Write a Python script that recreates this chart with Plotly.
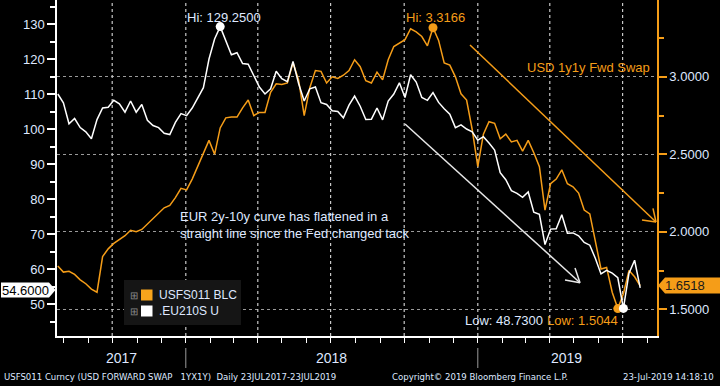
import numpy as np
import pandas as pd
import plotly.graph_objects as go

# ---- data (weekly samples) ----
dates = pd.date_range(end="2019-07-23", periods=105, freq="7D")

eu210s = [110.0, 107.5, 101.5, 103.0, 100.4, 99.2, 97.2, 102.7, 106.0, 106.2,
          108.2, 107.2, 104.8, 108.0, 104.8, 107.0, 102.5, 101.0, 100.4, 98.8,
          98.4, 101.9, 104.4, 103.8, 106.0, 109.1, 111.8, 120.0, 125.7, 129.25,
          125.4, 121.2, 121.8, 118.7, 118.5, 115.0, 112.0, 110.0, 111.5, 116.5,
          114.4, 113.5, 119.3, 113.0, 108.0, 111.5, 112.0, 107.5, 107.0, 105.2,
          105.0, 103.2, 106.8, 109.4, 106.5, 102.7, 102.8, 106.0, 102.6, 108.0,
          110.0, 113.2, 109.0, 115.5, 113.4, 109.0, 108.2, 110.4, 107.6, 105.8,
          104.2, 100.4, 101.2, 100.0, 99.2, 96.8, 97.8, 96.0, 94.0, 87.5,
          85.5, 82.4, 81.6, 80.5, 82.0, 76.2, 75.6, 67.0, 71.4, 71.5,
          75.5, 70.2, 70.3, 69.5, 67.6, 66.8, 63.0, 58.6, 59.6, 58.8,
          57.5, 48.73, 58.8, 62.5, 54.6]

usfs011 = [1.78, 1.74, 1.745, 1.725, 1.69, 1.665, 1.63, 1.61, 1.84, 1.89,
           1.925, 1.95, 1.975, 2.01, 2.00, 2.015, 2.05, 2.08, 2.12, 2.155,
           2.17, 2.22, 2.28, 2.27, 2.34, 2.42, 2.50, 2.59, 2.50, 2.67,
           2.735, 2.74, 2.74, 2.80, 2.85, 2.75, 2.77, 2.77, 2.90, 2.955,
           2.95, 2.96, 3.09, 2.98, 2.75, 2.93, 3.04, 3.035, 2.96, 3.00,
           2.99, 3.01, 3.04, 3.11, 3.065, 2.975, 2.96, 3.03, 2.98, 3.11,
           3.195, 3.22, 3.24, 3.31, 3.29, 3.26, 3.20, 3.3166, 3.235, 3.09,
           3.075, 3.00, 2.89, 2.85, 2.66, 2.42, 2.63, 2.71, 2.70, 2.60,
           2.63, 2.58, 2.59, 2.52, 2.59, 2.51, 2.42, 2.14, 2.31, 2.34,
           2.40, 2.31, 2.29, 2.25, 2.14, 2.115, 1.93, 1.76, 1.77, 1.61,
           1.5044, 1.60, 1.75, 1.71, 1.6518]

quarter_dates = ["2017-10-01", "2018-01-01", "2018-04-01", "2018-07-01",
                 "2018-10-01", "2019-01-01", "2019-04-01", "2019-07-01"]
year_labels = ["2017", "2018", "2019"]
year_label_dates = ["2017-10-12", "2018-07-02", "2019-04-22"]
year_breaks = ["2018-01-01", "2019-01-01"]

Y_RANGE = [1.3277, 3.4955]
Y2_RANGE = [40.857, 136.857]

ORANGE = "#F59D18"
WHITE = "#FFFFFF"
TXT = "#DFE8FF"
GRID = "#9A9A9A"
VGRID = "#C8C8C8"
FONT = "Liberation Sans, Arial, sans-serif"
NARROW = "DejaVu Sans Condensed, Liberation Sans Narrow, Arial Narrow"

w = np.array(eu210s)
o = np.array(usfs011)
wi_hi, wi_lo = int(w.argmax()), int(w.argmin())
oi_hi, oi_lo = int(o.argmax()), int(o.argmin())

fig = go.Figure()
# vertical quarterly grid lines (drawn as a background trace)
gx, gy = [], []
for d in quarter_dates:
    gx += [d, d, None]
    gy += [Y_RANGE[0], Y_RANGE[1], None]
fig.add_trace(go.Scatter(x=gx, y=gy, mode="lines", yaxis="y", connectgaps=False,
                         line=dict(color=VGRID, width=1.2, dash="3px,3px"),
                         hoverinfo="skip"))
fig.add_trace(go.Scatter(x=dates, y=usfs011, mode="lines", yaxis="y",
                         line=dict(color=ORANGE, width=1.5), hoverinfo="skip"))
fig.add_trace(go.Scatter(x=[dates[oi_hi], dates[oi_lo]], y=[o[oi_hi], o[oi_lo]],
                         mode="markers", yaxis="y",
                         marker=dict(color=ORANGE, size=9), hoverinfo="skip"))
fig.add_trace(go.Scatter(x=dates, y=eu210s, mode="lines", yaxis="y2",
                         line=dict(color=WHITE, width=1.5), hoverinfo="skip"))
fig.add_trace(go.Scatter(x=[dates[wi_hi], dates[wi_lo]], y=[w[wi_hi], w[wi_lo]],
                         mode="markers", yaxis="y2",
                         marker=dict(color=WHITE, size=9), hoverinfo="skip"))

def px(xp):
    return (xp - 57) / 600.0

def py(yp):
    return (336 - yp) / 336.0

ann = []
def text(t, x, y, color=TXT, size=13, xa="left", ya="middle", font=FONT, align="left"):
    ann.append(dict(text=t, x=x, y=y, xref="paper", yref="paper", showarrow=False,
                    xanchor=xa, yanchor=ya, align=align,
                    font=dict(color=color, size=size, family=font)))

text("Hi: %.4f" % w[wi_hi], px(185), py(17))
text("Hi: %.4f" % o[oi_hi], px(404), py(17), color=ORANGE)
text("Low: %.4f" % w[wi_lo], px(463), py(320))
text("Low: %.4f" % o[oi_lo], px(545), py(320), color=ORANGE)
text("USD 1y1y Fwd Swap", px(652), py(68), color=ORANGE, xa="right")
text("EUR 2y-10y curve has flattened in a<br>straight line since the Fed changed tack",
     px(178), py(225))
# legend texts
text("⊞", px(134), py(295), color="#8A8A8A", size=10, xa="center")
text("⊞", px(134), py(311), color="#8A8A8A", size=10, xa="center")
text("USFS011 BLC", px(157), py(295), size=12)
text(".EU210S U", px(157), py(311), size=12)
# value tags
text("%.4f" % w[-1], px(25), py(290), color="#000000", xa="center")
text("%.4f" % o[-1], px(685), py(285.5), color="#1A1A1A", xa="center")
# year labels
for lab, d in zip(year_labels, year_label_dates):
    ann.append(dict(text=lab, x=d, y=py(358), xref="x", yref="paper", showarrow=False,
                    xanchor="center", yanchor="middle",
                    font=dict(color=TXT, size=14, family=FONT)))
# footer
text("USFS011 Curncy (USD FORWARD SWAP   1YX1Y)  Daily 23JUL2017-23JUL2019",
     px(2), py(376), size=9.5, font=NARROW)
text("Copyright© 2019 Bloomberg Finance L.P.", px(480), py(376), size=9.5,
     font=NARROW, xa="center")
text("23-Jul-2019 14:18:10", px(716), py(376), size=9.5, font=NARROW, xa="right")

shapes = []
def line(x0, y0, x1, y1, color, width=1.5):
    shapes.append(dict(type="line", xref="paper", yref="paper",
                       x0=px(x0), y0=py(y0), x1=px(x1), y1=py(y1),
                       line=dict(color=color, width=width), layer="above"))

# white arrow
line(405, 124, 580, 282.7, "#E8E8E8")
line(580, 282.7, 565, 280, "#E8E8E8")
line(580, 282.7, 575, 268, "#E8E8E8")
# orange arrow
line(470, 45, 656, 222, ORANGE)
line(656, 222, 642, 220, ORANGE)
line(656, 222, 653, 208.3, ORANGE)
# year separators under the axis
for d in year_breaks:
    shapes.append(dict(type="line", xref="x", yref="paper", x0=d, x1=d,
                       y0=py(348), y1=py(368), line=dict(color="#9A9A9A", width=1),
                       layer="above"))

# legend box
shapes.append(dict(type="rect", xref="paper", yref="paper",
                   x0=px(124), y0=py(280), x1=px(241), y1=py(325),
                   fillcolor="#151515", line=dict(width=0), layer="above"))
shapes.append(dict(type="rect", xref="paper", yref="paper",
                   x0=px(141), y0=py(289.5), x1=px(152.5), y1=py(300.5),
                   fillcolor="#F7A41C", line=dict(width=0), layer="above"))
shapes.append(dict(type="rect", xref="paper", yref="paper",
                   x0=px(141), y0=py(305.5), x1=px(152.5), y1=py(316.5),
                   fillcolor=WHITE, line=dict(width=0), layer="above"))

# value tag backgrounds
def path(points):
    return "M " + " L ".join("%f,%f" % (px(a), py(b)) for a, b in points) + " Z"

shapes.append(dict(type="path", xref="paper", yref="paper",
                   path=path([(1, 282.5), (49, 282.5), (55.5, 290), (49, 297.5), (1, 297.5)]),
                   fillcolor=WHITE, line=dict(width=0), layer="above"))
shapes.append(dict(type="path", xref="paper", yref="paper",
                   path=path([(658, 285.5), (665, 277.5), (720, 277.5), (720, 293.5), (665, 293.5)]),
                   fillcolor=ORANGE, line=dict(width=0), layer="above"))

fig.update_layout(
    width=720, height=386,
    margin=dict(l=57, r=63, t=0, b=50),
    paper_bgcolor="#000000", plot_bgcolor="#000000",
    showlegend=False,
    font=dict(family=FONT, color=TXT, size=13),
    xaxis=dict(type="date", range=["2017-07-24", "2019-08-13"],
               showgrid=False,
               dtick="M3", tick0="2017-10-01",
               ticks="outside", ticklen=5, tickcolor=WHITE, tickwidth=1,
               showticklabels=False, showline=True, linecolor=WHITE, linewidth=1.5,
               minor=dict(dtick="M1", ticks="outside", ticklen=5, tickcolor=WHITE,
                          showgrid=False),
               zeroline=False),
    yaxis=dict(side="right", range=Y_RANGE, dtick=0.5, tick0=1.5,
               tickformat=".4f", showgrid=True, gridcolor=GRID, griddash="3px,3px",
               ticks="outside", ticklen=8, tickwidth=2, tickcolor=ORANGE,
               showline=True, linecolor=ORANGE, linewidth=1.5,
               minor=dict(dtick=0.25, tick0=1.5, ticks="outside", ticklen=5,
                          tickcolor=ORANGE, showgrid=False),
               tickfont=dict(color=TXT, size=13), zeroline=False),
    yaxis2=dict(overlaying="y", side="left", range=Y2_RANGE,
                dtick=10, tick0=0, showgrid=False,
                ticks="outside", ticklen=8, tickwidth=2, tickcolor=WHITE,
                showline=True, linecolor=WHITE, linewidth=1.5,
                minor=dict(dtick=5, tick0=0, ticks="outside", ticklen=5,
                           tickcolor=WHITE, showgrid=False),
                tickfont=dict(color=TXT, size=13), zeroline=False),
    annotations=ann,
    shapes=shapes,
)

fig.write_html("out.html", config={"displayModeBar": False},
               post_script="document.body.style.margin='0';document.body.style.background='#000';")
